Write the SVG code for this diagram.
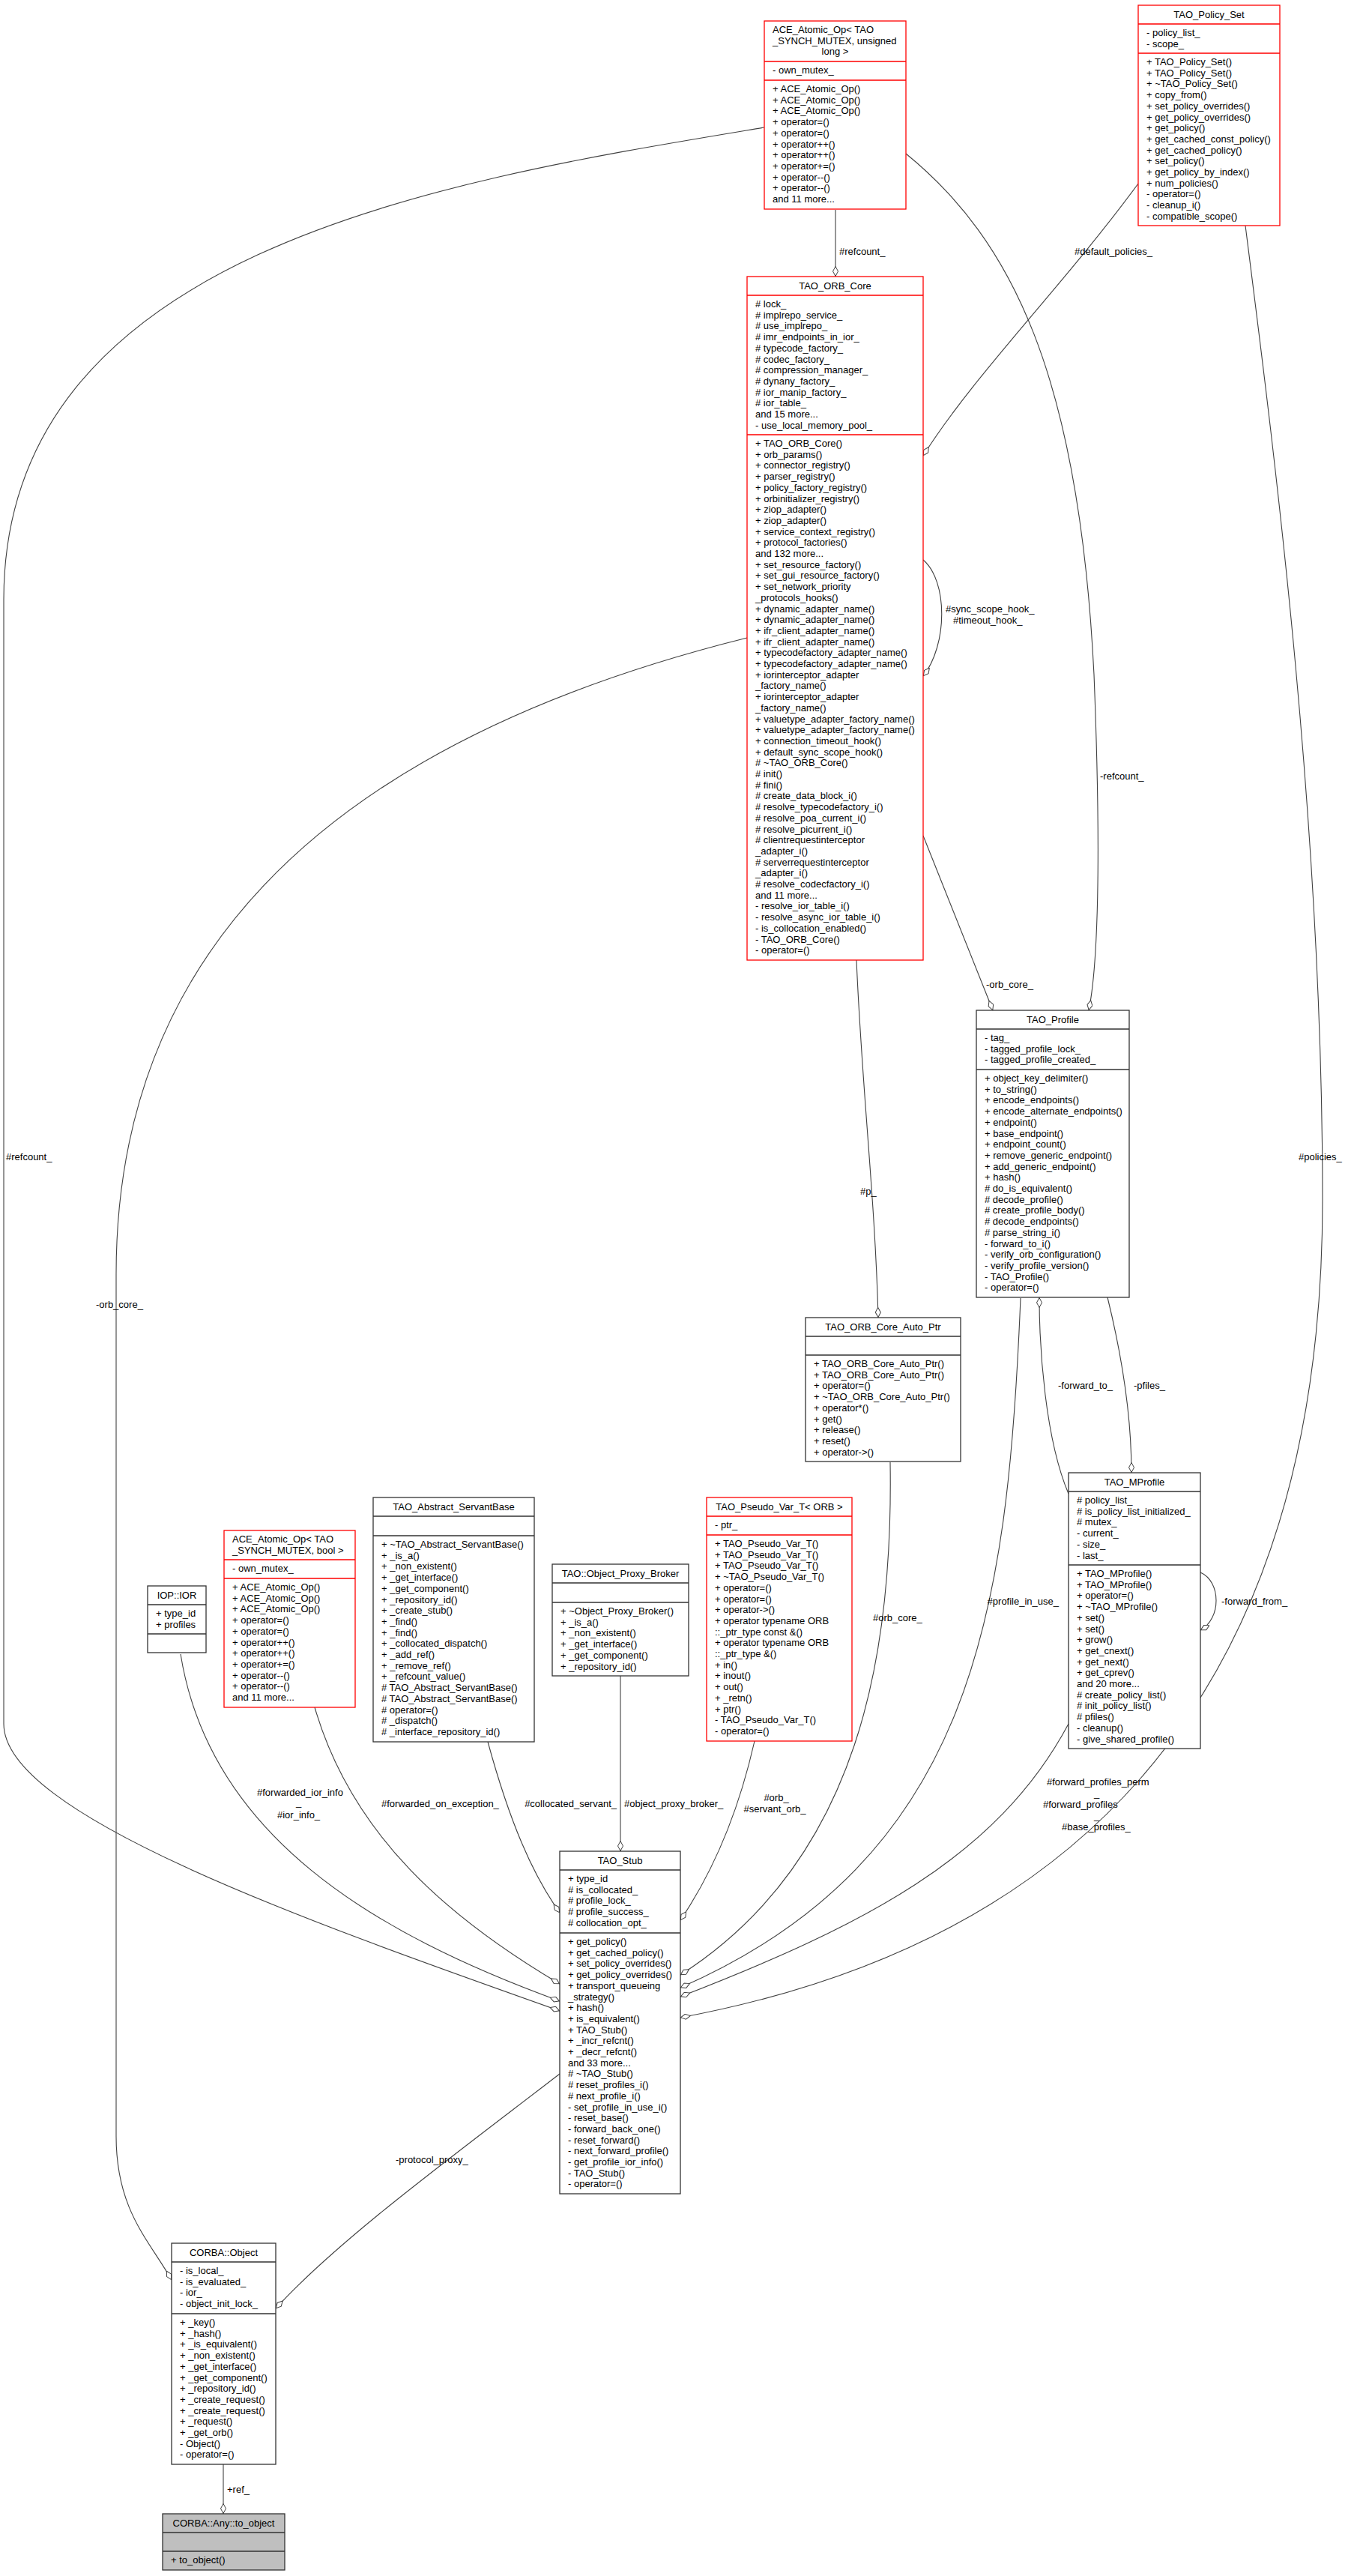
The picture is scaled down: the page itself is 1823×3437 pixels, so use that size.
<svg xmlns="http://www.w3.org/2000/svg" width="1823" height="3437" viewBox="0 0 1823 3437">
<style>
text{font-family:"Liberation Sans",Arial,sans-serif;font-size:13px;fill:#000}
.c{text-anchor:middle}
.b{fill:#fff;stroke:#333;stroke-width:1.3}
.r{fill:#fff;stroke:#f00;stroke-width:1.3}
.g{fill:#bfbfbf;stroke:#333;stroke-width:1.3}
.e{fill:none;stroke:#404040;stroke-width:1.1}
</style>
<defs>
<marker id="d" viewBox="0 0 14 8" refX="14" refY="4" markerWidth="14" markerHeight="8" markerUnits="userSpaceOnUse" orient="auto">
<path d="M0.5,4 L7,0.5 L13.5,4 L7,7.5 Z" fill="#fff" stroke="#404040" stroke-width="1"/>
</marker>
</defs>
<g id="connectors">
<path class="e" marker-end="url(#d)" d="M1115,280 L1115,369"/>
<text x="1120" y="340">#refcount_</text>
<path class="e" marker-end="url(#d)" d="M1020,170 C600,240 5,330 5,800 L5,2300 C5,2420 400,2560 747,2683"/>
<text x="8" y="1548">#refcount_</text>
<path class="e" marker-end="url(#d)" d="M1209,205 C1350,320 1440,500 1460,900 C1470,1150 1465,1290 1453,1348"/>
<text x="1468" y="1040">-refcount_</text>
<path class="e" marker-end="url(#d)" d="M1519,245 C1420,380 1300,500 1232,608"/>
<text x="1434" y="340">#default_policies_</text>
<path class="e" marker-end="url(#d)" d="M1662,301 C1700,600 1765,1100 1765,1600 C1765,2300 1400,2600 908,2692"/>
<text x="1733" y="1548">#policies_</text>
<path class="e" marker-end="url(#d)" d="M1232,747 C1265,775 1265,860 1232,902"/>
<text x="1262" y="817">#sync_scope_hook_</text>
<text x="1272" y="832">#timeout_hook_</text>
<path class="e" marker-end="url(#d)" d="M1232,1115 L1325,1348"/>
<text x="1316" y="1318">-orb_core_</text>
<path class="e" marker-end="url(#d)" d="M1143,1281 C1150,1450 1168,1600 1172,1758"/>
<text x="1148" y="1594">#p_</text>
<path class="e" marker-end="url(#d)" d="M997,851 C400,1000 155,1300 155,1700 L155,2850 C155,2950 200,2990 229,3042"/>
<text x="128" y="1745">-orb_core_</text>
<path class="e" marker-end="url(#d)" d="M1188,1951 C1192,2200 1150,2480 908,2635"/>
<text x="1165" y="2163">#orb_core_</text>
<path class="e" marker-end="url(#d)" d="M1362,1732 C1345,2150 1300,2480 908,2652"/>
<text x="1413" y="2141" text-anchor="end">#profile_in_use_</text>
<path class="e" marker-end="url(#d)" d="M1426,1993 C1395,1920 1387,1800 1387,1731"/>
<text x="1412" y="1853">-forward_to_</text>
<path class="e" marker-end="url(#d)" d="M1478,1731 C1495,1800 1510,1880 1510,1965"/>
<text x="1513" y="1853">-pfiles_</text>
<path class="e" marker-end="url(#d)" d="M1602,2098 C1630,2110 1630,2160 1602,2175"/>
<text x="1630" y="2141">-forward_from_</text>
<path class="e" marker-end="url(#d)" d="M1426,2300 C1330,2480 1150,2570 908,2664"/>
<text x="1397" y="2382">#forward_profiles_perm</text>
<text x="1460" y="2397">_</text>
<text x="1392" y="2412">#forward_profiles</text>
<text x="1460" y="2427">_</text>
<text x="1417" y="2442">#base_profiles_</text>
<path class="e" marker-end="url(#d)" d="M1007,2323 C985,2420 950,2500 908,2562"/>
<text x="1036" y="2403" class="c">#orb_</text>
<text x="1034" y="2418" class="c">#servant_orb_</text>
<path class="e" marker-end="url(#d)" d="M828,2236 L828,2470"/>
<text x="833" y="2411">#object_proxy_broker_</text>
<path class="e" marker-end="url(#d)" d="M651,2324 C680,2430 710,2500 747,2552"/>
<text x="823" y="2411" text-anchor="end">#collocated_servant_</text>
<path class="e" marker-end="url(#d)" d="M420,2278 C470,2450 600,2560 747,2647"/>
<text x="509" y="2411">#forwarded_on_exception_</text>
<path class="e" marker-end="url(#d)" d="M241,2207 C280,2450 500,2580 747,2670"/>
<text x="343" y="2396">#forwarded_ior_info</text>
<text x="395" y="2409">_</text>
<text x="370" y="2426">#ior_info_</text>
<path class="e" marker-end="url(#d)" d="M747,2767 C600,2880 450,2990 368,3080"/>
<text x="528" y="2886">-protocol_proxy_</text>
<path class="e" marker-end="url(#d)" d="M298,3288 L298,3354"/>
<text x="303" y="3326">+ref_</text>
</g>
<g id="ace_ulong">
<rect class="r" x="1020" y="28" width="189" height="251"/>
<path class="r" d="M1020,82 H1209 M1020,107 H1209"/>
<text x="1031" y="44">ACE_Atomic_Op&lt; TAO</text>
<text x="1031" y="58.7">_SYNCH_MUTEX, unsigned</text>
<text x="1114.5" y="73.4" class="c">long &gt;</text>
<text x="1031" y="98">- own_mutex_</text>
<text x="1031" y="123"><tspan x="1031">+ ACE_Atomic_Op()</tspan><tspan x="1031" dy="14.7">+ ACE_Atomic_Op()</tspan><tspan x="1031" dy="14.7">+ ACE_Atomic_Op()</tspan><tspan x="1031" dy="14.7">+ operator=()</tspan><tspan x="1031" dy="14.7">+ operator=()</tspan><tspan x="1031" dy="14.7">+ operator++()</tspan><tspan x="1031" dy="14.7">+ operator++()</tspan><tspan x="1031" dy="14.7">+ operator+=()</tspan><tspan x="1031" dy="14.7">+ operator--()</tspan><tspan x="1031" dy="14.7">+ operator--()</tspan><tspan x="1031" dy="14.7">and 11 more...</tspan></text>
</g>
<g id="policy_set">
<rect class="r" x="1519" y="7" width="189" height="294"/>
<path class="r" d="M1519,32 H1708 M1519,71 H1708"/>
<text x="1613.5" y="24" class="c">TAO_Policy_Set</text>
<text x="1530" y="48"><tspan x="1530">- policy_list_</tspan><tspan x="1530" dy="14.7">- scope_</tspan></text>
<text x="1530" y="87"><tspan x="1530">+ TAO_Policy_Set()</tspan><tspan x="1530" dy="14.7">+ TAO_Policy_Set()</tspan><tspan x="1530" dy="14.7">+ ~TAO_Policy_Set()</tspan><tspan x="1530" dy="14.7">+ copy_from()</tspan><tspan x="1530" dy="14.7">+ set_policy_overrides()</tspan><tspan x="1530" dy="14.7">+ get_policy_overrides()</tspan><tspan x="1530" dy="14.7">+ get_policy()</tspan><tspan x="1530" dy="14.7">+ get_cached_const_policy()</tspan><tspan x="1530" dy="14.7">+ get_cached_policy()</tspan><tspan x="1530" dy="14.7">+ set_policy()</tspan><tspan x="1530" dy="14.7">+ get_policy_by_index()</tspan><tspan x="1530" dy="14.7">+ num_policies()</tspan><tspan x="1530" dy="14.7">- operator=()</tspan><tspan x="1530" dy="14.7">- cleanup_i()</tspan><tspan x="1530" dy="14.7">- compatible_scope()</tspan></text>
</g>
<g id="orb_core">
<rect class="r" x="997" y="369" width="235" height="912"/>
<path class="r" d="M997,394 H1232 M997,580 H1232"/>
<text x="1114.5" y="386" class="c">TAO_ORB_Core</text>
<text x="1008" y="410"><tspan x="1008"># lock_</tspan><tspan x="1008" dy="14.7"># implrepo_service_</tspan><tspan x="1008" dy="14.7"># use_implrepo_</tspan><tspan x="1008" dy="14.7"># imr_endpoints_in_ior_</tspan><tspan x="1008" dy="14.7"># typecode_factory_</tspan><tspan x="1008" dy="14.7"># codec_factory_</tspan><tspan x="1008" dy="14.7"># compression_manager_</tspan><tspan x="1008" dy="14.7"># dynany_factory_</tspan><tspan x="1008" dy="14.7"># ior_manip_factory_</tspan><tspan x="1008" dy="14.7"># ior_table_</tspan><tspan x="1008" dy="14.7">and 15 more...</tspan><tspan x="1008" dy="14.7">- use_local_memory_pool_</tspan></text>
<text x="1008" y="596"><tspan x="1008">+ TAO_ORB_Core()</tspan><tspan x="1008" dy="14.7">+ orb_params()</tspan><tspan x="1008" dy="14.7">+ connector_registry()</tspan><tspan x="1008" dy="14.7">+ parser_registry()</tspan><tspan x="1008" dy="14.7">+ policy_factory_registry()</tspan><tspan x="1008" dy="14.7">+ orbinitializer_registry()</tspan><tspan x="1008" dy="14.7">+ ziop_adapter()</tspan><tspan x="1008" dy="14.7">+ ziop_adapter()</tspan><tspan x="1008" dy="14.7">+ service_context_registry()</tspan><tspan x="1008" dy="14.7">+ protocol_factories()</tspan><tspan x="1008" dy="14.7">and 132 more...</tspan><tspan x="1008" dy="14.7">+ set_resource_factory()</tspan><tspan x="1008" dy="14.7">+ set_gui_resource_factory()</tspan><tspan x="1008" dy="14.7">+ set_network_priority</tspan><tspan x="1008" dy="14.7">_protocols_hooks()</tspan><tspan x="1008" dy="14.7">+ dynamic_adapter_name()</tspan><tspan x="1008" dy="14.7">+ dynamic_adapter_name()</tspan><tspan x="1008" dy="14.7">+ ifr_client_adapter_name()</tspan><tspan x="1008" dy="14.7">+ ifr_client_adapter_name()</tspan><tspan x="1008" dy="14.7">+ typecodefactory_adapter_name()</tspan><tspan x="1008" dy="14.7">+ typecodefactory_adapter_name()</tspan><tspan x="1008" dy="14.7">+ iorinterceptor_adapter</tspan><tspan x="1008" dy="14.7">_factory_name()</tspan><tspan x="1008" dy="14.7">+ iorinterceptor_adapter</tspan><tspan x="1008" dy="14.7">_factory_name()</tspan><tspan x="1008" dy="14.7">+ valuetype_adapter_factory_name()</tspan><tspan x="1008" dy="14.7">+ valuetype_adapter_factory_name()</tspan><tspan x="1008" dy="14.7">+ connection_timeout_hook()</tspan><tspan x="1008" dy="14.7">+ default_sync_scope_hook()</tspan><tspan x="1008" dy="14.7"># ~TAO_ORB_Core()</tspan><tspan x="1008" dy="14.7"># init()</tspan><tspan x="1008" dy="14.7"># fini()</tspan><tspan x="1008" dy="14.7"># create_data_block_i()</tspan><tspan x="1008" dy="14.7"># resolve_typecodefactory_i()</tspan><tspan x="1008" dy="14.7"># resolve_poa_current_i()</tspan><tspan x="1008" dy="14.7"># resolve_picurrent_i()</tspan><tspan x="1008" dy="14.7"># clientrequestinterceptor</tspan><tspan x="1008" dy="14.7">_adapter_i()</tspan><tspan x="1008" dy="14.7"># serverrequestinterceptor</tspan><tspan x="1008" dy="14.7">_adapter_i()</tspan><tspan x="1008" dy="14.7"># resolve_codecfactory_i()</tspan><tspan x="1008" dy="14.7">and 11 more...</tspan><tspan x="1008" dy="14.7">- resolve_ior_table_i()</tspan><tspan x="1008" dy="14.7">- resolve_async_ior_table_i()</tspan><tspan x="1008" dy="14.7">- is_collocation_enabled()</tspan><tspan x="1008" dy="14.7">- TAO_ORB_Core()</tspan><tspan x="1008" dy="14.7">- operator=()</tspan></text>
</g>
<g id="tao_profile">
<rect class="b" x="1303" y="1348" width="204" height="383"/>
<path class="b" d="M1303,1373 H1507 M1303,1427 H1507"/>
<text x="1405" y="1365" class="c">TAO_Profile</text>
<text x="1314" y="1389"><tspan x="1314">- tag_</tspan><tspan x="1314" dy="14.7">- tagged_profile_lock_</tspan><tspan x="1314" dy="14.7">- tagged_profile_created_</tspan></text>
<text x="1314" y="1443"><tspan x="1314">+ object_key_delimiter()</tspan><tspan x="1314" dy="14.7">+ to_string()</tspan><tspan x="1314" dy="14.7">+ encode_endpoints()</tspan><tspan x="1314" dy="14.7">+ encode_alternate_endpoints()</tspan><tspan x="1314" dy="14.7">+ endpoint()</tspan><tspan x="1314" dy="14.7">+ base_endpoint()</tspan><tspan x="1314" dy="14.7">+ endpoint_count()</tspan><tspan x="1314" dy="14.7">+ remove_generic_endpoint()</tspan><tspan x="1314" dy="14.7">+ add_generic_endpoint()</tspan><tspan x="1314" dy="14.7">+ hash()</tspan><tspan x="1314" dy="14.7"># do_is_equivalent()</tspan><tspan x="1314" dy="14.7"># decode_profile()</tspan><tspan x="1314" dy="14.7"># create_profile_body()</tspan><tspan x="1314" dy="14.7"># decode_endpoints()</tspan><tspan x="1314" dy="14.7"># parse_string_i()</tspan><tspan x="1314" dy="14.7">- forward_to_i()</tspan><tspan x="1314" dy="14.7">- verify_orb_configuration()</tspan><tspan x="1314" dy="14.7">- verify_profile_version()</tspan><tspan x="1314" dy="14.7">- TAO_Profile()</tspan><tspan x="1314" dy="14.7">- operator=()</tspan></text>
</g>
<g id="orb_core_auto_ptr">
<rect class="b" x="1075" y="1758" width="207" height="192"/>
<path class="b" d="M1075,1783 H1282 M1075,1808 H1282"/>
<text x="1178.5" y="1775" class="c">TAO_ORB_Core_Auto_Ptr</text>
<text x="1086" y="1824"><tspan x="1086">+ TAO_ORB_Core_Auto_Ptr()</tspan><tspan x="1086" dy="14.7">+ TAO_ORB_Core_Auto_Ptr()</tspan><tspan x="1086" dy="14.7">+ operator=()</tspan><tspan x="1086" dy="14.7">+ ~TAO_ORB_Core_Auto_Ptr()</tspan><tspan x="1086" dy="14.7">+ operator*()</tspan><tspan x="1086" dy="14.7">+ get()</tspan><tspan x="1086" dy="14.7">+ release()</tspan><tspan x="1086" dy="14.7">+ reset()</tspan><tspan x="1086" dy="14.7">+ operator-&gt;()</tspan></text>
</g>
<g id="mprofile">
<rect class="b" x="1426" y="1965" width="176" height="368"/>
<path class="b" d="M1426,1990 H1602 M1426,2088 H1602"/>
<text x="1514" y="1982" class="c">TAO_MProfile</text>
<text x="1437" y="2006"><tspan x="1437"># policy_list_</tspan><tspan x="1437" dy="14.7"># is_policy_list_initialized_</tspan><tspan x="1437" dy="14.7"># mutex_</tspan><tspan x="1437" dy="14.7">- current_</tspan><tspan x="1437" dy="14.7">- size_</tspan><tspan x="1437" dy="14.7">- last_</tspan></text>
<text x="1437" y="2104"><tspan x="1437">+ TAO_MProfile()</tspan><tspan x="1437" dy="14.7">+ TAO_MProfile()</tspan><tspan x="1437" dy="14.7">+ operator=()</tspan><tspan x="1437" dy="14.7">+ ~TAO_MProfile()</tspan><tspan x="1437" dy="14.7">+ set()</tspan><tspan x="1437" dy="14.7">+ set()</tspan><tspan x="1437" dy="14.7">+ grow()</tspan><tspan x="1437" dy="14.7">+ get_cnext()</tspan><tspan x="1437" dy="14.7">+ get_next()</tspan><tspan x="1437" dy="14.7">+ get_cprev()</tspan><tspan x="1437" dy="14.7">and 20 more...</tspan><tspan x="1437" dy="14.7"># create_policy_list()</tspan><tspan x="1437" dy="14.7"># init_policy_list()</tspan><tspan x="1437" dy="14.7"># pfiles()</tspan><tspan x="1437" dy="14.7">- cleanup()</tspan><tspan x="1437" dy="14.7">- give_shared_profile()</tspan></text>
</g>
<g id="iop_ior">
<rect class="b" x="197" y="2116" width="78" height="89"/>
<path class="b" d="M197,2141 H275 M197,2180 H275"/>
<text x="236" y="2133" class="c">IOP::IOR</text>
<text x="208" y="2157"><tspan x="208">+ type_id</tspan><tspan x="208" dy="14.7">+ profiles</tspan></text>
</g>
<g id="ace_bool">
<rect class="r" x="299" y="2042" width="175" height="236"/>
<path class="r" d="M299,2081 H474 M299,2106 H474"/>
<text x="310" y="2058"><tspan x="310">ACE_Atomic_Op&lt; TAO</tspan><tspan x="310" dy="14.7">_SYNCH_MUTEX, bool &gt;</tspan></text>
<text x="310" y="2097">- own_mutex_</text>
<text x="310" y="2122"><tspan x="310">+ ACE_Atomic_Op()</tspan><tspan x="310" dy="14.7">+ ACE_Atomic_Op()</tspan><tspan x="310" dy="14.7">+ ACE_Atomic_Op()</tspan><tspan x="310" dy="14.7">+ operator=()</tspan><tspan x="310" dy="14.7">+ operator=()</tspan><tspan x="310" dy="14.7">+ operator++()</tspan><tspan x="310" dy="14.7">+ operator++()</tspan><tspan x="310" dy="14.7">+ operator+=()</tspan><tspan x="310" dy="14.7">+ operator--()</tspan><tspan x="310" dy="14.7">+ operator--()</tspan><tspan x="310" dy="14.7">and 11 more...</tspan></text>
</g>
<g id="abstract_servant_base">
<rect class="b" x="498" y="1998" width="215" height="326"/>
<path class="b" d="M498,2023 H713 M498,2049 H713"/>
<text x="605.5" y="2015" class="c">TAO_Abstract_ServantBase</text>
<text x="509" y="2065"><tspan x="509">+ ~TAO_Abstract_ServantBase()</tspan><tspan x="509" dy="14.7">+ _is_a()</tspan><tspan x="509" dy="14.7">+ _non_existent()</tspan><tspan x="509" dy="14.7">+ _get_interface()</tspan><tspan x="509" dy="14.7">+ _get_component()</tspan><tspan x="509" dy="14.7">+ _repository_id()</tspan><tspan x="509" dy="14.7">+ _create_stub()</tspan><tspan x="509" dy="14.7">+ _find()</tspan><tspan x="509" dy="14.7">+ _find()</tspan><tspan x="509" dy="14.7">+ _collocated_dispatch()</tspan><tspan x="509" dy="14.7">+ _add_ref()</tspan><tspan x="509" dy="14.7">+ _remove_ref()</tspan><tspan x="509" dy="14.7">+ _refcount_value()</tspan><tspan x="509" dy="14.7"># TAO_Abstract_ServantBase()</tspan><tspan x="509" dy="14.7"># TAO_Abstract_ServantBase()</tspan><tspan x="509" dy="14.7"># operator=()</tspan><tspan x="509" dy="14.7"># _dispatch()</tspan><tspan x="509" dy="14.7"># _interface_repository_id()</tspan></text>
</g>
<g id="object_proxy_broker">
<rect class="b" x="737" y="2087" width="182" height="149"/>
<path class="b" d="M737,2112 H919 M737,2138 H919"/>
<text x="828" y="2104" class="c">TAO::Object_Proxy_Broker</text>
<text x="748" y="2154"><tspan x="748">+ ~Object_Proxy_Broker()</tspan><tspan x="748" dy="14.7">+ _is_a()</tspan><tspan x="748" dy="14.7">+ _non_existent()</tspan><tspan x="748" dy="14.7">+ _get_interface()</tspan><tspan x="748" dy="14.7">+ _get_component()</tspan><tspan x="748" dy="14.7">+ _repository_id()</tspan></text>
</g>
<g id="pseudo_var">
<rect class="r" x="943" y="1998" width="194" height="325"/>
<path class="r" d="M943,2023 H1137 M943,2048 H1137"/>
<text x="1040" y="2015" class="c">TAO_Pseudo_Var_T&lt; ORB &gt;</text>
<text x="954" y="2039">- ptr_</text>
<text x="954" y="2064"><tspan x="954">+ TAO_Pseudo_Var_T()</tspan><tspan x="954" dy="14.7">+ TAO_Pseudo_Var_T()</tspan><tspan x="954" dy="14.7">+ TAO_Pseudo_Var_T()</tspan><tspan x="954" dy="14.7">+ ~TAO_Pseudo_Var_T()</tspan><tspan x="954" dy="14.7">+ operator=()</tspan><tspan x="954" dy="14.7">+ operator=()</tspan><tspan x="954" dy="14.7">+ operator-&gt;()</tspan><tspan x="954" dy="14.7">+ operator typename ORB</tspan><tspan x="954" dy="14.7">::_ptr_type const &amp;()</tspan><tspan x="954" dy="14.7">+ operator typename ORB</tspan><tspan x="954" dy="14.7">::_ptr_type &amp;()</tspan><tspan x="954" dy="14.7">+ in()</tspan><tspan x="954" dy="14.7">+ inout()</tspan><tspan x="954" dy="14.7">+ out()</tspan><tspan x="954" dy="14.7">+ _retn()</tspan><tspan x="954" dy="14.7">+ ptr()</tspan><tspan x="954" dy="14.7">- TAO_Pseudo_Var_T()</tspan><tspan x="954" dy="14.7">- operator=()</tspan></text>
</g>
<g id="tao_stub">
<rect class="b" x="747" y="2470" width="161" height="457"/>
<path class="b" d="M747,2495 H908 M747,2579 H908"/>
<text x="827.5" y="2487" class="c">TAO_Stub</text>
<text x="758" y="2511"><tspan x="758">+ type_id</tspan><tspan x="758" dy="14.7"># is_collocated_</tspan><tspan x="758" dy="14.7"># profile_lock_</tspan><tspan x="758" dy="14.7"># profile_success_</tspan><tspan x="758" dy="14.7"># collocation_opt_</tspan></text>
<text x="758" y="2595"><tspan x="758">+ get_policy()</tspan><tspan x="758" dy="14.7">+ get_cached_policy()</tspan><tspan x="758" dy="14.7">+ set_policy_overrides()</tspan><tspan x="758" dy="14.7">+ get_policy_overrides()</tspan><tspan x="758" dy="14.7">+ transport_queueing</tspan><tspan x="758" dy="14.7">_strategy()</tspan><tspan x="758" dy="14.7">+ hash()</tspan><tspan x="758" dy="14.7">+ is_equivalent()</tspan><tspan x="758" dy="14.7">+ TAO_Stub()</tspan><tspan x="758" dy="14.7">+ _incr_refcnt()</tspan><tspan x="758" dy="14.7">+ _decr_refcnt()</tspan><tspan x="758" dy="14.7">and 33 more...</tspan><tspan x="758" dy="14.7"># ~TAO_Stub()</tspan><tspan x="758" dy="14.7"># reset_profiles_i()</tspan><tspan x="758" dy="14.7"># next_profile_i()</tspan><tspan x="758" dy="14.7">- set_profile_in_use_i()</tspan><tspan x="758" dy="14.7">- reset_base()</tspan><tspan x="758" dy="14.7">- forward_back_one()</tspan><tspan x="758" dy="14.7">- reset_forward()</tspan><tspan x="758" dy="14.7">- next_forward_profile()</tspan><tspan x="758" dy="14.7">- get_profile_ior_info()</tspan><tspan x="758" dy="14.7">- TAO_Stub()</tspan><tspan x="758" dy="14.7">- operator=()</tspan></text>
</g>
<g id="corba_object">
<rect class="b" x="229" y="2993" width="139" height="295"/>
<path class="b" d="M229,3018 H368 M229,3087 H368"/>
<text x="298.5" y="3010" class="c">CORBA::Object</text>
<text x="240" y="3034"><tspan x="240">- is_local_</tspan><tspan x="240" dy="14.7">- is_evaluated_</tspan><tspan x="240" dy="14.7">- ior_</tspan><tspan x="240" dy="14.7">- object_init_lock_</tspan></text>
<text x="240" y="3103"><tspan x="240">+ _key()</tspan><tspan x="240" dy="14.7">+ _hash()</tspan><tspan x="240" dy="14.7">+ _is_equivalent()</tspan><tspan x="240" dy="14.7">+ _non_existent()</tspan><tspan x="240" dy="14.7">+ _get_interface()</tspan><tspan x="240" dy="14.7">+ _get_component()</tspan><tspan x="240" dy="14.7">+ _repository_id()</tspan><tspan x="240" dy="14.7">+ _create_request()</tspan><tspan x="240" dy="14.7">+ _create_request()</tspan><tspan x="240" dy="14.7">+ _request()</tspan><tspan x="240" dy="14.7">+ _get_orb()</tspan><tspan x="240" dy="14.7">- Object()</tspan><tspan x="240" dy="14.7">- operator=()</tspan></text>
</g>
<g id="any_to_object">
<rect class="g" x="217" y="3354" width="163" height="75"/>
<path class="g" d="M217,3379 H380 M217,3404 H380"/>
<text x="298.5" y="3371" class="c">CORBA::Any::to_object</text>
<text x="228" y="3420">+ to_object()</text>
</g>
</svg>
